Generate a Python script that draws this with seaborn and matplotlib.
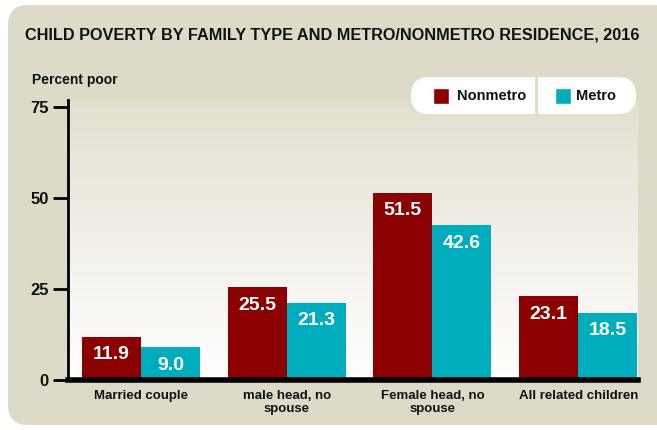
import numpy as np
import pandas as pd
import seaborn as sns
import matplotlib.pyplot as plt
from matplotlib import font_manager
from matplotlib.patches import FancyBboxPatch
from matplotlib.colors import LinearSegmentedColormap

categories = ['Married couple', 'male head, no\nspouse', 'Female head, no\nspouse', 'All related children']
nonmetro = [11.9, 25.5, 51.5, 23.1]
metro = [9.0, 21.3, 42.6, 18.5]
series = ['Nonmetro', 'Metro']
yticks = [0, 25, 50, 75]

df = pd.DataFrame({
    'family': categories * 2,
    'residence': ['Nonmetro'] * 4 + ['Metro'] * 4,
    'pct': nonmetro + metro,
})

sns.set_style('white')
names = {f.name for f in font_manager.fontManager.ttflist}
fam = 'Liberation Sans Narrow' if 'Liberation Sans Narrow' in names else 'Liberation Sans'
plt.rcParams['font.family'] = [fam, 'DejaVu Sans']
plt.rcParams['font.weight'] = 'bold'

ink = '#111111'
beige = '#dedac8'
red = '#8b0000'
teal = '#00adbd'

fig = plt.figure(figsize=(6.57, 4.30), dpi=100)
fig.patch.set_facecolor('white')
# rounded beige card, in inches
fig.patches.append(FancyBboxPatch((0.08, 0.05), 6.8, 4.20, boxstyle='round,pad=0,rounding_size=0.2',
                                  transform=fig.dpi_scale_trans, facecolor=beige, edgecolor='none', zorder=-10))

ax = fig.add_axes([68 / 657, 1 - 380 / 430, 570 / 657, 280 / 430])
sns.barplot(data=df, x='family', y='pct', hue='residence', palette=[red, teal],
            saturation=1, width=0.81, linewidth=0, ax=ax, legend=False, zorder=3)

ax.set_xlim(-0.5, 3.41)
ax.set_ylim(0, 77)
grad = LinearSegmentedColormap.from_list('g', ['white', '#e3dfd0'])
ax.imshow(np.linspace(0, 1, 256)[:, None], extent=[-0.5, 3.41, 0, 77], origin='lower',
          aspect='auto', cmap=grad, zorder=0)

for cont, vals in zip(ax.containers, [nonmetro, metro]):
    for p, v in zip(cont.patches, vals):
        ax.annotate(f'{v:.1f}', (p.get_x() + p.get_width() / 2, p.get_height()),
                    xytext=(0, -7), textcoords='offset points', ha='center', va='top',
                    color='white', fontsize=14, fontweight='bold', zorder=4)

ax.set_yticks(yticks)
ax.tick_params(axis='y', left=True, length=11, width=2, color='black', labelsize=12,
               labelcolor=ink, pad=3)
ax.tick_params(axis='x', bottom=False, length=0, labelsize=9.5, labelcolor=ink, pad=7)
for t in ax.get_xticklabels():
    t.set_linespacing(1.1)
ax.set_xlabel('')
ax.set_ylabel('')
for s in ['top', 'right']:
    ax.spines[s].set_visible(False)
ax.spines['left'].set_linewidth(2)
ax.spines['left'].set_color('black')
ax.spines['bottom'].set_linewidth(4)
ax.spines['bottom'].set_color('black')
ax.spines['bottom'].set_zorder(5)
ax.set_facecolor('none')

fig.text(25 / 657, 1 - 35 / 430, 'CHILD POVERTY BY FAMILY TYPE AND METRO/NONMETRO RESIDENCE, 2016',
         fontsize=11.7, fontweight='bold', va='center', ha='left', color=ink)
fig.text(32 / 657, 1 - 80 / 430, 'Percent poor', fontsize=10, fontweight='bold', va='center',
         ha='left', color=ink)

# legend pill, in inches
fig.patches.append(FancyBboxPatch((4.11, 4.30 - 1.14), 2.25, 0.37, boxstyle='round,pad=0,rounding_size=0.18',
                                  transform=fig.dpi_scale_trans, facecolor='white', edgecolor='none', zorder=5))
fig.add_artist(plt.Line2D([536 / 657, 536 / 657], [1 - 114 / 430, 1 - 77 / 430], color=beige, lw=2, zorder=6))
for x0, dx, lab, col in [(433, 24, series[0], red), (555, 21, series[1], teal)]:
    fig.patches.append(plt.Rectangle((x0 / 657, 1 - 104 / 430), 16 / 657, 16 / 430,
                                     transform=fig.transFigure, facecolor=col, zorder=6))
    fig.text((x0 + dx) / 657, 1 - 96 / 430, lab, fontsize=10.5, fontweight='bold', va='center',
             color=ink, zorder=7)

fig.savefig('out.png', dpi=100)
